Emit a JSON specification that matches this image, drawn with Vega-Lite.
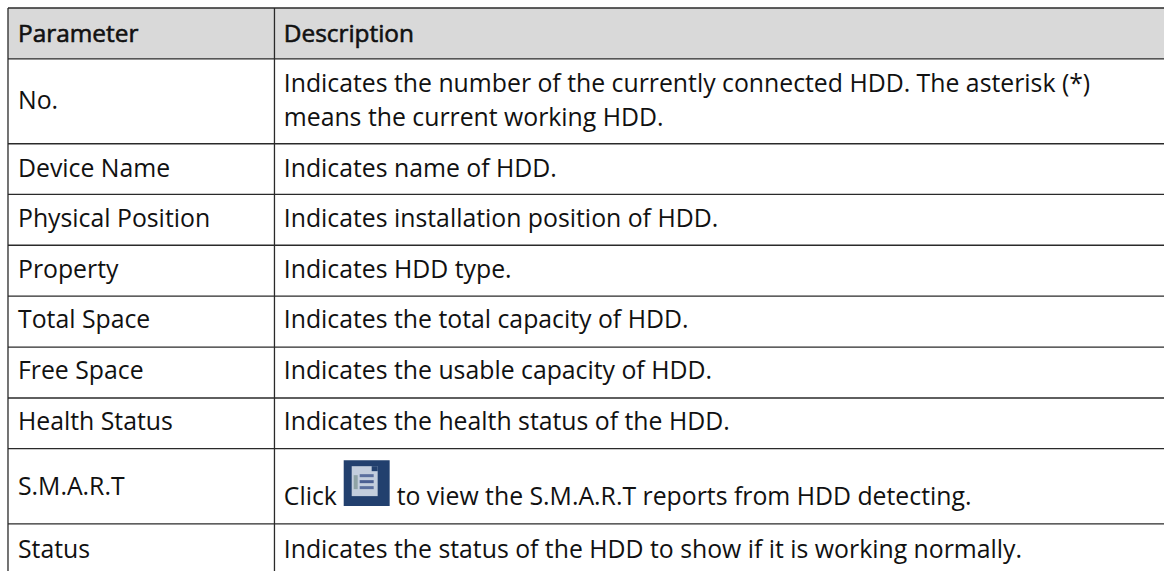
{"$schema":"https://vega.github.io/schema/vega-lite/v6.json","width":1165,"height":572,"autosize":{"type":"fit","contains":"padding"},"padding":0,"background":"white","view":{"stroke":null},"datasets":{"fills":[{"x":8,"x2":1165,"y":8,"y2":59,"c":"#d9d9d9"},{"x":344,"x2":390,"y":461,"y2":507,"c":"#22406e"},{"x":352,"x2":378,"y":467,"y2":497,"c":"#c3cedd"},{"x":360,"x2":374,"y":475,"y2":478,"c":"#5a6f9e"},{"x":360,"x2":374,"y":481,"y2":484,"c":"#4a5f92"},{"x":360,"x2":374,"y":487,"y2":490,"c":"#5a6f9e"},{"x":354,"x2":358,"y":476,"y2":490,"c":"#8fa3a5"},{"x":372,"x2":378,"y":467,"y2":472,"c":"#22406e"}],"lines":[{"x":8,"x2":1165,"y":8,"y2":8},{"x":8,"x2":1165,"y":59,"y2":59},{"x":8,"x2":1165,"y":144,"y2":144},{"x":8,"x2":1165,"y":194.7,"y2":194.7},{"x":8,"x2":1165,"y":245.7,"y2":245.7},{"x":8,"x2":1165,"y":296.7,"y2":296.7},{"x":8,"x2":1165,"y":347.7,"y2":347.7},{"x":8,"x2":1165,"y":398.7,"y2":398.7},{"x":8,"x2":1165,"y":449.5,"y2":449.5},{"x":8,"x2":1165,"y":524.7,"y2":524.7},{"x":8,"x2":8,"y":8,"y2":572},{"x":274.7,"x2":274.7,"y":8,"y2":572}],"texts":[{"x":18,"y":33,"t":"Parameter","h":true},{"x":284,"y":33,"t":"Description","h":true},{"x":18,"y":100,"t":"No.","h":false},{"x":284,"y":83,"t":"Indicates the number of the currently connected HDD. The asterisk (*)","h":false},{"x":284,"y":117,"t":"means the current working HDD.","h":false},{"x":18,"y":168,"t":"Device Name","h":false},{"x":284,"y":168,"t":"Indicates name of HDD.","h":false},{"x":18,"y":218,"t":"Physical Position","h":false},{"x":284,"y":218,"t":"Indicates installation position of HDD.","h":false},{"x":18,"y":269,"t":"Property","h":false},{"x":284,"y":269,"t":"Indicates HDD type.","h":false},{"x":18,"y":320,"t":"Total Space","h":false},{"x":284,"y":320,"t":"Indicates the total capacity of HDD.","h":false},{"x":18,"y":371,"t":"Free Space","h":false},{"x":284,"y":371,"t":"Indicates the usable capacity of HDD.","h":false},{"x":18,"y":421.5,"t":"Health Status","h":false},{"x":284,"y":421.5,"t":"Indicates the health status of the HDD.","h":false},{"x":18,"y":487,"t":"S.M.A.R.T","h":false},{"x":284,"y":497,"t":"Click","h":false},{"x":397,"y":497,"t":"to view the S.M.A.R.T reports from HDD detecting.","h":false},{"x":18,"y":550,"t":"Status","h":false},{"x":284,"y":550,"t":"Indicates the status of the HDD to show if it is working normally.","h":false}]},"data":{"name":"texts"},"layer":[{"data":{"name":"fills"},"mark":{"type":"rect"},"encoding":{"x":{"field":"x","type":"quantitative","scale":{"domain":[0,1165],"nice":false,"zero":false},"axis":null},"x2":{"field":"x2"},"y":{"field":"y","type":"quantitative","scale":{"domain":[572,0],"nice":false,"zero":false},"axis":null},"y2":{"field":"y2"},"color":{"field":"c","type":"nominal","scale":null}}},{"data":{"name":"lines"},"mark":{"type":"rule","color":"#2a2a2a","strokeWidth":1.3},"encoding":{"x":{"field":"x","type":"quantitative"},"x2":{"field":"x2"},"y":{"field":"y","type":"quantitative"},"y2":{"field":"y2"}}},{"transform":[{"filter":"!datum.h"}],"mark":{"type":"text","align":"left","baseline":"middle","dy":2,"font":"Open Sans","fontSize":24.8,"color":"#111111"},"encoding":{"x":{"field":"x","type":"quantitative"},"y":{"field":"y","type":"quantitative"},"text":{"field":"t"}}},{"transform":[{"filter":"datum.h"}],"mark":{"type":"text","align":"left","baseline":"middle","dy":2,"font":"Open Sans","fontSize":24.4,"color":"#111111","stroke":"#111111","strokeWidth":0.6},"encoding":{"x":{"field":"x","type":"quantitative"},"y":{"field":"y","type":"quantitative"},"text":{"field":"t"}}}]}
